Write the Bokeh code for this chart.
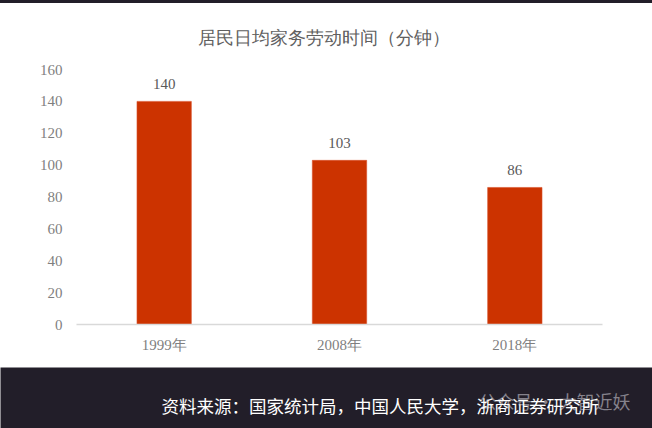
from bokeh.plotting import figure
from bokeh.models import ColumnDataSource, FactorRange, Range1d, FixedTicker, Div
from bokeh.layouts import column
from bokeh.embed import file_html
from bokeh.resources import INLINE
from bokeh.core.properties import value

categories = ["1999年", "2008年", "2018年"]
values = [140, 103, 86]
value_labels = ["140", "103", "86"]
y_ticks = [0, 20, 40, 60, 80, 100, 120, 140, 160]
title_text = "居民日均家务劳动时间（分钟）"
source_text = "资料来源：国家统计局，中国人民大学，浙商证券研究所"
watermark_text = "公众号 · 大智近妖"

SERIF = "Liberation Serif"
GREY = "#7f7f7f"
DARK = "#221e29"

src = ColumnDataSource(dict(cat=categories, val=values, lab=value_labels))

p = figure(x_range=FactorRange(*categories), y_range=Range1d(0, 160),
           width=652, height=364, output_backend="svg", toolbar_location=None,
           min_border_left=76, min_border_right=50, min_border_top=65, min_border_bottom=43,
           background_fill_color="white", border_fill_color="white")
p.outline_line_color = None
p.grid.visible = False

p.title.text = title_text
p.title.align = "left"
p.title.offset = 121
p.title.standoff = 44
p.title.text_font = SERIF
p.title.text_font_size = "18px"
p.title.text_font_style = "normal"
p.title.text_color = "#606060"

p.vbar(x="cat", top="val", width=0.31, source=src, fill_color="#cc3300", line_color="#d9502a", line_width=0.6)
p.text(x="cat", y="val", text="lab", source=src, text_align="center", text_baseline="middle",
       y_offset=-17, text_font=value(SERIF), text_font_size="15px", text_color="#595959")

xa = p.xaxis[0]
xa.axis_line_color = "#d9d9d9"
xa.axis_line_width = 1.5
xa.major_tick_line_color = None
xa.minor_tick_line_color = None
xa.major_tick_out = 0
xa.major_tick_in = 0
xa.major_label_text_font = SERIF
xa.major_label_text_font_size = "15px"
xa.major_label_text_color = GREY
xa.major_label_standoff = 12

ya = p.yaxis[0]
ya.ticker = FixedTicker(ticks=y_ticks)
ya.axis_line_color = None
ya.major_tick_line_color = None
ya.minor_tick_line_color = None
ya.major_tick_out = 0
ya.major_tick_in = 0
ya.major_label_text_font = SERIF
ya.major_label_text_font_size = "15px"
ya.major_label_text_color = GREY
ya.major_label_standoff = 14

top = Div(text="", width=652, height=3, margin=0,
          styles={"background-color": DARK, "padding": "0", "overflow": "hidden"})

f = figure(width=652, height=61, x_range=Range1d(0, 652), y_range=Range1d(0, 61),
           output_backend="svg", toolbar_location=None,
           min_border=0, min_border_left=0, min_border_right=0, min_border_top=0, min_border_bottom=0,
           background_fill_color=DARK, border_fill_color=DARK)
f.outline_line_color = None
f.axis.visible = False
f.grid.visible = False
f.text(x=[478], y=[28], text=[watermark_text], text_align="left", text_baseline="middle",
       text_font=value("Noto Sans CJK SC"), text_font_size="18px", text_color="#85828c")
f.text(x=[161], y=[23], text=[source_text], text_align="left", text_baseline="middle",
       text_font=value("Noto Sans CJK SC"), text_font_size="17.5px", text_color="white")

layout = column(top, p, column(f), spacing=0)
open("out.html", "w").write(file_html(layout, INLINE))
